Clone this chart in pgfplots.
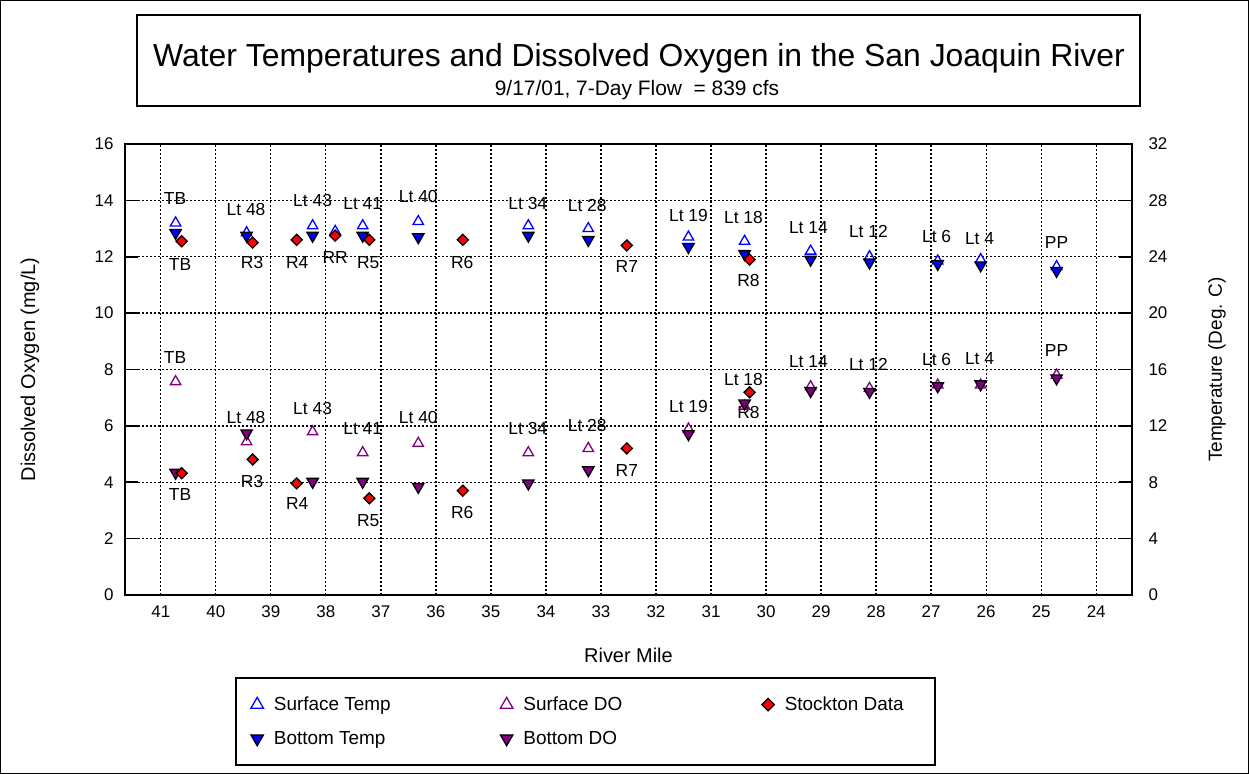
\documentclass[border=0pt]{standalone}
\usepackage{fontspec}
\setmainfont{Liberation Sans}
\usepackage{pgfplots}
\usepackage{pgfplotstable}
\pgfplotsset{compat=1.18}
\definecolor{stblue}{RGB}{0,0,255}
\definecolor{stpurple}{RGB}{128,0,128}
\definecolor{stred}{RGB}{255,0,0}

% River mile vs temperature (deg C)
\pgfplotstableread{
x y
40.73 26.4
39.44 25.7
38.24 26.2
37.83 25.8
37.33 26.2
36.32 26.5
34.32 26.2
33.23 26.0
31.41 25.4
30.39 25.1
29.19 24.4
28.12 24.0
26.88 23.7
26.10 23.8
24.72 23.3
}\surftemp
\pgfplotstableread{
x y
40.73 25.7
39.44 25.5
38.24 25.5
37.33 25.5
36.32 25.4
34.32 25.5
33.23 25.2
31.41 24.7
30.39 24.2
29.19 23.8
28.12 23.6
26.88 23.5
26.10 23.4
24.72 23.0
}\bottemp
\pgfplotstableread{
x y
40.62 25.1
39.33 25.0
38.53 25.2
37.83 25.5
37.21 25.2
35.51 25.2
32.53 24.8
30.30 23.8
}\stocktemp
% River mile vs dissolved oxygen (mg/L)
\pgfplotstableread{
x y
40.73 7.57
39.44 5.44
38.24 5.79
37.33 5.05
36.32 5.38
34.32 5.05
33.23 5.20
31.41 5.89
30.39 6.70
29.19 7.39
28.12 7.33
26.88 7.45
26.10 7.45
24.72 7.80
}\surfdo
\pgfplotstableread{
x y
40.73 4.34
39.44 5.74
38.24 4.02
37.33 4.02
36.32 3.84
34.32 3.96
33.23 4.43
31.41 5.71
30.39 6.80
29.19 7.24
28.12 7.21
26.88 7.41
26.10 7.48
24.72 7.69
}\botdo
\pgfplotstableread{
x y
40.62 4.32
39.33 4.81
38.53 3.96
37.21 3.43
35.51 3.70
32.53 5.20
30.30 7.19
}\stockdo

\pgfplotsset{
  stemp/.style={only marks, mark=triangle, mark size=6bp, color=stblue, mark options={line width=1.3bp}},
  sdo/.style={only marks, mark=triangle, mark size=6bp, color=stpurple, mark options={line width=1.3bp}},
  btemp/.style={only marks, mark=triangle*, mark size=6.6bp, mark options={rotate=180, fill=stblue, draw=black, line width=1.3bp}},
  bdo/.style={only marks, mark=triangle*, mark size=6.6bp, mark options={rotate=180, fill=stpurple, draw=black, line width=1.3bp}},
  stock/.style={only marks, mark=square*, mark size=3.9bp, mark options={rotate=45, fill=stred, draw=black, line width=1.3bp}},
}
\newcommand{\lab}[3]{\node[font=\fontsize{17.5}{17.5}\selectfont, inner sep=0pt] at (axis cs:#1,#2) {#3};}

\begin{document}
\begin{tikzpicture}
\useasboundingbox (0,0) rectangle (1249bp,774bp);
\draw[line width=1bp] (0.5bp,0.5bp) rectangle (1248.5bp,773.5bp);
\draw[line width=2bp] (137bp,668bp) rectangle (1140bp,759bp);
\node[font=\fontsize{32}{36}\selectfont] at (639bp,716bp) {Water Temperatures and Dissolved Oxygen in the San Joaquin River};
\node[font=\fontsize{21}{24}\selectfont] at (637bp,684bp) {9/17/01, 7-Day Flow\ \ = 839 cfs};

\begin{axis}[
  at={(125bp,179bp)}, anchor=south west,
  scale only axis, width=1007bp, height=451bp,
  x dir=reverse, xmin=23.35, xmax=41.65, ymin=0, ymax=16,
  xtick={24,...,41}, ytick={0,2,...,16},
  ytick pos=left,
  grid=major,
  major grid style={black, line width=1.3bp, dash pattern=on 1.6bp off 2.4bp},
  axis line style={line width=1.6bp},
  tick style={black, line width=1.6bp},
  major tick length=13bp, tick align=inside,
  xtick style={draw=none},
  tick label style={font=\fontsize{17}{17}\selectfont},
  /pgf/number format/assume math mode=true,
  yticklabel shift=8bp,
  xticklabel shift=7bp,
  xlabel={River Mile},
  ylabel={Dissolved Oxygen (mg/L)},
  label style={font=\fontsize{20}{20}\selectfont},
  xlabel style={at={(axis description cs:0.5,-0.133)}, anchor=center},
  ylabel style={at={(axis description cs:-0.0943,0.5)}, anchor=center},
  clip=false,
  legend columns=3,
  legend style={at={(axis description cs:0.1092,-0.1818)}, anchor=north west,
    draw=black, line width=2bp, font=\fontsize{19}{19}\selectfont,
    inner xsep=15bp, inner ysep=17bp, row sep=15bp,
    cells={anchor=west},
    /tikz/every odd column/.append style={column sep=8.5bp},
    /tikz/every even column/.append style={column sep=0bp}},
]
\addlegendimage{stemp, mark size=7.2bp}\addlegendentry{\makebox[224.5bp][l]{Surface Temp}}
\addlegendimage{sdo, mark size=7.2bp}\addlegendentry{\makebox[236.5bp][l]{Surface DO}}
\addlegendimage{stock, mark size=4.4bp}\addlegendentry{\makebox[133bp][l]{Stockton Data}}
\addlegendimage{btemp, mark size=7.2bp}\addlegendentry{Bottom Temp}
\addlegendimage{bdo, mark size=7.2bp}\addlegendentry{Bottom DO}

\addplot[stemp, forget plot, y filter/.expression={y/2}] table {\surftemp};
\addplot[sdo, forget plot] table {\surfdo};
\addplot[btemp, forget plot, y filter/.expression={y/2}] table {\bottemp};
\addplot[bdo, forget plot] table {\botdo};
\addplot[stock, forget plot, y filter/.expression={y/2}] table {\stocktemp};
\addplot[stock, forget plot] table {\stockdo};

% station labels, temperature group
\lab{40.74}{14.05}{TB}
\lab{40.65}{11.71}{TB}
\lab{39.45}{13.69}{Lt 48}
\lab{39.34}{11.78}{R3}
\lab{38.52}{11.78}{R4}
\lab{38.24}{13.98}{Lt 43}
\lab{37.83}{11.99}{RR}
\lab{37.33}{13.90}{Lt 41}
\lab{37.23}{11.78}{R5}
\lab{36.32}{14.12}{Lt 40}
\lab{35.52}{11.78}{R6}
\lab{34.33}{13.90}{Lt 34}
\lab{33.25}{13.83}{Lt 28}
\lab{32.53}{11.67}{R7}
\lab{31.41}{13.48}{Lt 19}
\lab{30.41}{13.41}{Lt 18}
\lab{30.32}{11.14}{R8}
\lab{29.23}{13.02}{Lt 14}
\lab{28.14}{12.91}{Lt 12}
\lab{26.90}{12.73}{Lt 6}
\lab{26.12}{12.66}{Lt 4}
\lab{24.72}{12.49}{PP}
% station labels, DO group
\lab{40.74}{8.44}{TB}
\lab{40.65}{3.58}{TB}
\lab{39.45}{6.28}{Lt 48}
\lab{39.34}{4.04}{R3}
\lab{38.52}{3.26}{R4}
\lab{38.24}{6.63}{Lt 43}
\lab{37.33}{5.92}{Lt 41}
\lab{37.23}{2.63}{R5}
\lab{36.32}{6.28}{Lt 40}
\lab{35.52}{2.94}{R6}
\lab{34.33}{5.92}{Lt 34}
\lab{33.25}{6.03}{Lt 28}
\lab{32.53}{4.43}{R7}
\lab{31.41}{6.70}{Lt 19}
\lab{30.41}{7.63}{Lt 18}
\lab{30.32}{6.49}{R8}
\lab{29.23}{8.27}{Lt 14}
\lab{28.14}{8.19}{Lt 12}
\lab{26.90}{8.37}{Lt 6}
\lab{26.12}{8.37}{Lt 4}
\lab{24.72}{8.69}{PP}
\end{axis}

\begin{axis}[
  at={(125bp,179bp)}, anchor=south west,
  scale only axis, width=1007bp, height=451bp,
  x dir=reverse, xmin=23.35, xmax=41.65, ymin=0, ymax=32,
  ytick={0,4,...,32},
  axis y line*=right, axis x line=none,
  axis line style={line width=1.6bp, -},
  tick style={black, line width=1.6bp},
  major tick length=13bp, tick align=inside,
  tick label style={font=\fontsize{17}{17}\selectfont},
  /pgf/number format/assume math mode=true,
  yticklabel shift=13bp,
  ylabel={Temperature (Deg. C)},
  label style={font=\fontsize{19}{19}\selectfont},
  ylabel style={at={(axis description cs:1.0844,0.5)}, anchor=center, rotate=0},
]
\end{axis}
\end{tikzpicture}
\end{document}
